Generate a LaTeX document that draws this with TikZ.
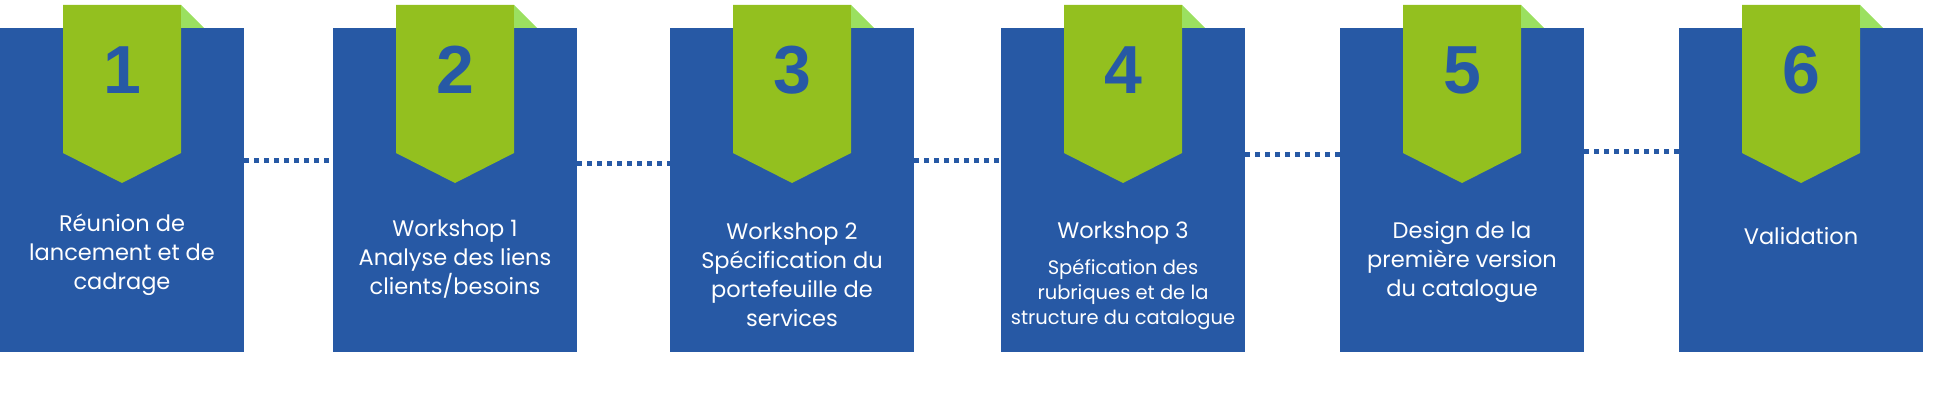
\documentclass[tikz,border=0pt]{standalone}
\usepackage{fontspec}
\setmainfont{Poppins}
\newfontfamily\cifras{Liberation Sans}
\usepackage{tikz}
\usetikzlibrary{positioning}

\definecolor{azul}{HTML}{2759A5}
\definecolor{verde}{HTML}{93C01F}
\definecolor{verdeclaro}{HTML}{9BE060}

\begin{document}
\begin{tikzpicture}[x=1pt, y=-1pt,
		etapa/.style={rectangle, fill=azul, minimum width=244pt, minimum height=324pt, inner sep=0pt, outer sep=0pt},
		numero/.style={text=azul, font=\cifras\bfseries\fontsize{68}{68}\selectfont},
		texto/.style={text=white, align=center, font=\fontsize{22.5}{29}\selectfont},
		textochico/.style={text=white, align=center, font=\fontsize{19.5}{25}\selectfont},
		punteado/.style={azul, line width=5pt, dash pattern=on 5pt off 5pt}]
	
	\useasboundingbox (0,0) rectangle (1954,420);
	
	% Etapas con su banderola
	\foreach \n/\x in {1/122,2/455,3/792,4/1123,5/1462,6/1801} {
		\node[etapa] (Etapa\n) at (\x,190) {};
		\fill[verde] (\x-59,5) -- (\x+59,5) -- (\x+59,153) -- (\x,183) -- (\x-59,153) -- cycle;
		\fill[verdeclaro] (\x+59,5) -- (\x+82,28) -- (\x+59,28) -- cycle;
		\node[numero] (Numero\n) at (\x,70) {\n};
	}
	
	% Conexiones punteadas
	\draw[punteado] ([yshift=30pt]Etapa1.east) -- ([yshift=30pt]Etapa2.west);
	\draw[punteado] ([yshift=27pt]Etapa2.east) -- ([yshift=27pt]Etapa3.west);
	\draw[punteado] ([yshift=30pt]Etapa3.east) -- ([yshift=30pt]Etapa4.west);
	\draw[punteado] ([yshift=36pt]Etapa4.east) -- ([yshift=36pt]Etapa5.west);
	\draw[punteado] ([yshift=39pt]Etapa5.east) -- ([yshift=39pt]Etapa6.west);
	
	% Etiquetas
	\node[texto] (Texto1) at (122,255) {Réunion de\\lancement et de\\cadrage};
	\node[texto] (Texto2) at (455,259) {Workshop 1\\Analyse des liens\\clients/besoins};
	\node[texto] (Texto3) at (792,275) {Workshop 2\\Spécification du\\portefeuille de\\services};
	\node[texto] (Texto4) at (1123,233) {Workshop 3};
	\node[textochico] (Texto4b) at (1123,295) {Spéfication des\\rubriques et de la\\structure du catalogue};
	\node[texto] (Texto5) at (1462,262) {Design de la\\première version\\du catalogue};
	\node[texto] (Texto6) at (1801,236) {Validation};
	
\end{tikzpicture}
\end{document}
